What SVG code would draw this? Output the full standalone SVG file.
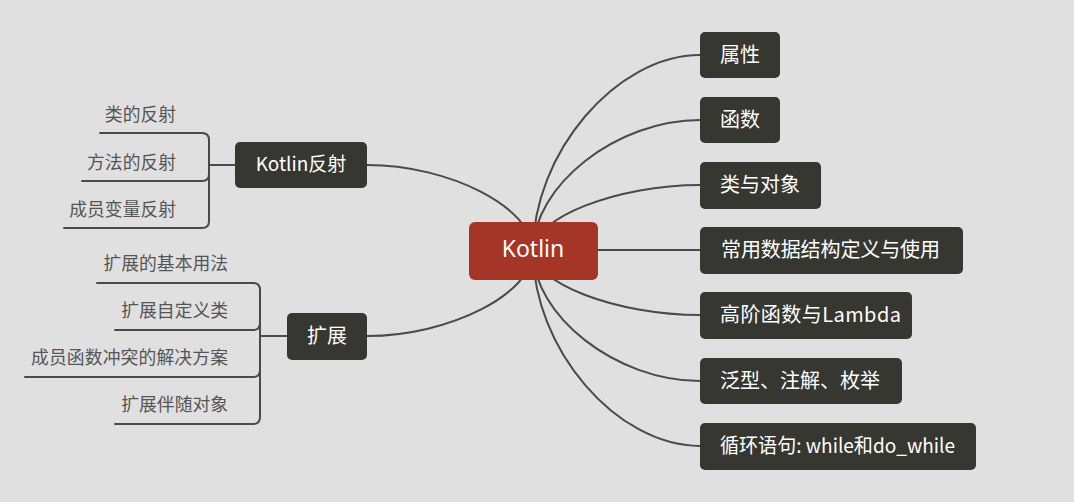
<svg xmlns="http://www.w3.org/2000/svg" width="1074" height="502" viewBox="0 0 1074 502">
<style>
.bg{fill:#e0e0e0}
.ln{fill:none;stroke:#4a4a4c;stroke-width:2;stroke-linecap:round}
.node{fill:#373731}
.root{fill:#a53527}
.nt{font-family:"Noto Sans CJK SC","Noto Sans",sans-serif;font-size:20px;fill:#ffffff}
.rt{font-family:"Noto Sans","Noto Sans CJK SC",sans-serif;font-size:23px;fill:#ffffff;text-anchor:middle}
.st{font-family:"Noto Sans CJK SC","Noto Sans",sans-serif;font-size:17.8px;fill:#555555;text-anchor:end}
</style>
<rect class="bg" x="0" y="0" width="1074" height="502"/>
<g id="connectors">
<path class="ln" d="M533,251 C533,153 616.5,55 700,55"/>
<path class="ln" d="M533,251 C533,185.5 616.5,120 700,120"/>
<path class="ln" d="M533,251 C533,218 616.5,185 700,185"/>
<path class="ln" d="M533,250 L700,250"/>
<path class="ln" d="M533,251 C533,283 616.5,315 700,315"/>
<path class="ln" d="M533,251 C533,316 616.5,381 700,381"/>
<path class="ln" d="M533,251 C533,348.5 616.5,446 700,446"/>
<path class="ln" d="M533,251 C533,208 450,165 367,165"/>
<path class="ln" d="M533,251 C533,293.5 450,336 367,336"/>
<path class="ln" d="M100,133 H202 Q209,133 209,140 V221 Q209,228 202,228 H64"/>
<path class="ln" d="M82,181 H202 Q209,181 209,174"/>
<path class="ln" d="M209,165 H235"/>
<path class="ln" d="M97,283 H253 Q260,283 260,290 V417 Q260,424 253,424 H115"/>
<path class="ln" d="M115,330 H253 Q260,330 260,323"/>
<path class="ln" d="M25,377 H253 Q260,377 260,370"/>
<path class="ln" d="M260,336 H287"/>
</g>
<g id="root">
<rect class="root" x="469" y="222" width="129" height="58" rx="6"/>
<text class="rt" x="533" y="257">Kotlin</text>
</g>
<g id="n-shuxing">
<rect class="node" x="700" y="32" width="80" height="46" rx="5"/>
<text class="nt" x="720" y="62">属性</text>
</g>
<g id="n-hanshu">
<rect class="node" x="700" y="97" width="80" height="46" rx="5"/>
<text class="nt" x="720" y="127">函数</text>
</g>
<g id="n-lei">
<rect class="node" x="700" y="162" width="121" height="47" rx="5"/>
<text class="nt" x="720" y="192">类与对象</text>
</g>
<g id="n-changyong">
<rect class="node" x="700" y="227" width="263" height="47" rx="5"/>
<text class="nt" x="721" y="257" textLength="219" lengthAdjust="spacing">常用数据结构定义与使用</text>
</g>
<g id="n-gaojie">
<rect class="node" x="700" y="292" width="212" height="47" rx="5"/>
<text class="nt" x="720" y="322" textLength="181" lengthAdjust="spacing">高阶函数与Lambda</text>
</g>
<g id="n-fanxing">
<rect class="node" x="700" y="358" width="202" height="46" rx="5"/>
<text class="nt" x="720" y="388">泛型、注解、枚举</text>
</g>
<g id="n-xunhuan">
<rect class="node" x="700" y="423" width="276" height="47" rx="5"/>
<text class="nt" x="720" y="453" textLength="235" lengthAdjust="spacingAndGlyphs">循环语句: while和do_while</text>
</g>
<g id="n-fanshe">
<rect class="node" x="235" y="142" width="132" height="46" rx="5"/>
<text class="nt" x="301" y="171" text-anchor="middle" style="font-size:19px">Kotlin反射</text>
</g>
<g id="n-kuozhan">
<rect class="node" x="287" y="313" width="80" height="47" rx="5"/>
<text class="nt" x="307" y="343">扩展</text>
</g>
<g id="sub-fanshe">
<text class="st" x="176" y="121">类的反射</text>
<text class="st" x="176" y="169">方法的反射</text>
<text class="st" x="176" y="216">成员变量反射</text>
</g>
<g id="sub-kuozhan">
<text class="st" x="228" y="270">扩展的基本用法</text>
<text class="st" x="228" y="317">扩展自定义类</text>
<text class="st" x="228" y="364" textLength="197" lengthAdjust="spacing">成员函数冲突的解决方案</text>
<text class="st" x="228" y="411">扩展伴随对象</text>
</g>
</svg>
